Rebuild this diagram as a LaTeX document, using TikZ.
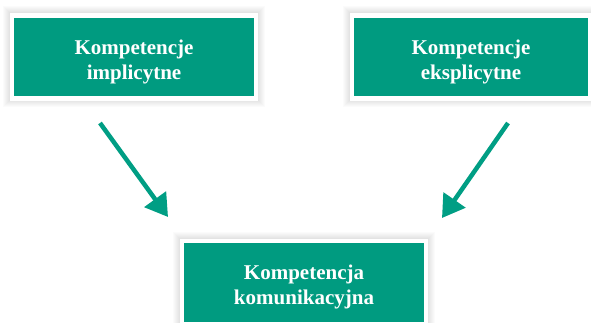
\documentclass[tikz,border=0pt]{standalone}
\usepackage{fontspec}
\setmainfont{Liberation Serif}
\usetikzlibrary{arrows.meta,calc}
\definecolor{boxgreen}{RGB}{0,155,128}
\definecolor{arrowgreen}{RGB}{0,158,132}
\tikzset{
  box/.style={fill=boxgreen, draw=white, line width=4.5pt, minimum width=#1, minimum height=83pt,
    inner sep=0pt, align=center, text=white, font=\fontsize{21pt}{25pt}\selectfont\bfseries},
  arr/.style={draw=arrowgreen, line width=4.5pt, -{Triangle[length=22pt,width=26pt]}},
}
\newcommand{\haloat}[2]{%
  \foreach \s in {1,...,8}{
    \fill[black, opacity=0.014] ($(#1)+(-#2/2-\s-1,-83/2-\s-1)$) rectangle ($(#1)+(#2/2+\s+1,83/2+\s+1)$);
  }}
\newcommand{\lowstrut}{\rule{0pt}{24pt}}
\begin{document}
\begin{tikzpicture}[x=1pt,y=-1pt]
\useasboundingbox (0,0) rectangle (591,323);
\fill[white] (0,0) rectangle (591,323);
\coordinate (cl) at (134,57);
\coordinate (cr) at (471,57);
\coordinate (cb) at (304,282.5);
\haloat{cl}{244}
\haloat{cr}{238}
\haloat{cb}{244}
\node[box=244pt] (impl) at (cl) {\lowstrut Kompetencje\\implicytne};
\node[box=238pt] (eksp) at (cr) {\lowstrut Kompetencje\\eksplicytne};
\node[box=244pt] (kom) at (cb) {\lowstrut Kompetencja\\komunikacyjna};
\coordinate (a1s) at (100,123);
\coordinate (a1e) at (168,217);
\coordinate (a2s) at (508,123);
\coordinate (a2e) at (442,218);
\draw[arr] (a1s) -- (a1e);
\draw[arr] (a2s) -- (a2e);
\end{tikzpicture}
\end{document}
